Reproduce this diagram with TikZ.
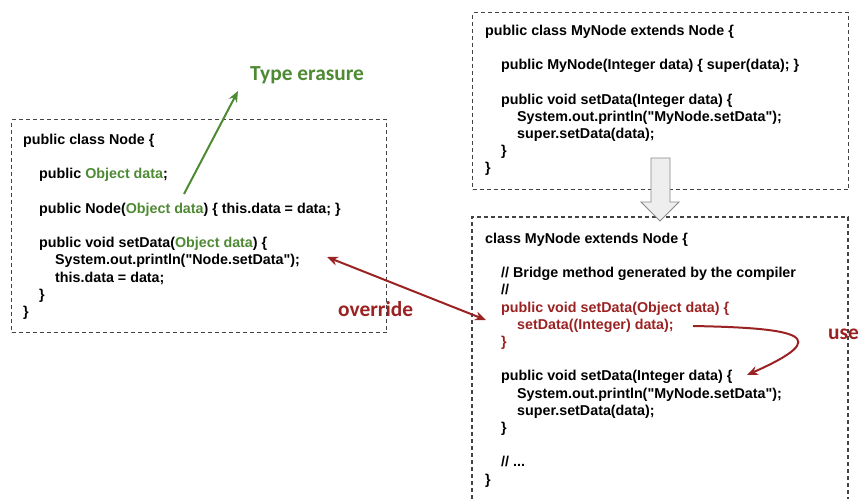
\documentclass[tikz,border=0pt]{standalone}
\usepackage{fontspec}
\setmainfont{Liberation Sans}[Ligatures=TeXOff]
\newfontfamily\labelfont{Carlito}
\usetikzlibrary{arrows.meta}
\definecolor{cgreen}{HTML}{4E8A34}
\definecolor{cred}{HTML}{9B2222}
\definecolor{cbox}{HTML}{444444}
\definecolor{cfill}{HTML}{EEEEEE}
\definecolor{cedge}{HTML}{888888}
\newcommand\codefont{\fontsize{14.3}{17.2}\selectfont\bfseries}
\newcommand\ind{\hspace*{16pt}}
\begin{document}
\begin{tikzpicture}[x=1pt,y=-1pt,
  box/.style={draw=cbox, line width=1.3pt, dash pattern=on 4pt off 3pt, inner sep=0pt, anchor=north west},
  code/.style={font=\codefont, align=left, inner sep=0pt, anchor=north west},
  lab/.style={font=\fontsize{21.4}{24}\selectfont\labelfont\bfseries, inner sep=0pt, anchor=base west},
  garrow/.style={draw=cgreen, line width=2pt, -{Stealth[length=11pt,width=9pt]}},
  rarrow/.style={draw=cred, line width=2pt, -{Stealth[length=11pt,width=9pt]}},
  rdarrow/.style={draw=cred, line width=2pt, {Stealth[length=11pt,width=9pt]}-{Stealth[length=11pt,width=9pt]}},
  blockarrow/.style={draw=cedge, fill=cfill, line width=0.9pt, line join=miter}]
\useasboundingbox (0,0) rectangle (859,498);

% boxes
\node[box, minimum width=375pt, minimum height=213pt] (b1) at (11,119) {};
\node[box, minimum width=376pt, minimum height=177pt] (b2) at (472,12) {};
\draw[draw=cbox, line width=1.3pt, dash pattern=on 4pt off 3pt] (472,520) -- (472,217) -- (848,217) -- (848,520);

% block arrow between boxes
\draw[blockarrow] (651,158) -- (670,158) -- (670,202) -- (679,202) -- (660,221) -- (641,202) -- (651,202) -- cycle;

% code texts
\node[code] (t1) at (23,132.3) {\strut public class Node \{\\[17.2pt]
\ind public \textcolor{cgreen}{Object data};\\[17.2pt]
\ind public Node(\textcolor{cgreen}{Object data}) \{ this.data = data; \}\\[17.2pt]
\ind public void setData(\textcolor{cgreen}{Object data}) \{\\
\ind\ind System.out.println("Node.setData");\\
\ind\ind this.data = data;\\
\ind \}\\
\}};

\node[code] (t2) at (485,23) {\strut public class MyNode extends Node \{\\[17.2pt]
\ind public MyNode(Integer data) \{ super(data); \}\\[17.2pt]
\ind public void setData(Integer data) \{\\
\ind\ind System.out.println("MyNode.setData");\\
\ind\ind super.setData(data);\\
\ind \}\\
\}};

\node[code] (t3) at (485,231) {\strut class MyNode extends Node \{\\[17.2pt]
\ind // Bridge method generated by the compiler\\
\ind //\\
\ind \textcolor{cred}{public void setData(Object data) \{}\\
\ind\ind \textcolor{cred}{setData((Integer) data);}\\
\ind \textcolor{cred}{\}}\\[17.2pt]
\ind public void setData(Integer data) \{\\
\ind\ind System.out.println("MyNode.setData");\\
\ind\ind super.setData(data);\\
\ind \}\\[17.2pt]
\ind // ...\\
\}};

% labels
\node[lab, text=cgreen] (te) at (250,80) {Type erasure};
\node[lab, text=cred] (ov) at (338,316) {override};
\node[lab, text=cred] (us) at (828,339) {use};

% connectors
\coordinate (teS) at (184,194);
\coordinate (teE) at (238,91);
\draw[garrow] (teS) -- (teE);

\coordinate (ovA) at (327,257);
\coordinate (ovB) at (486,320);
\draw[rdarrow] (ovA) -- (ovB);

\coordinate (usS) at (693,326);
\coordinate (usE) at (747,375);
\draw[rarrow] (usS) .. controls (800,328) and (835,336) .. (usE);
\end{tikzpicture}
\end{document}
